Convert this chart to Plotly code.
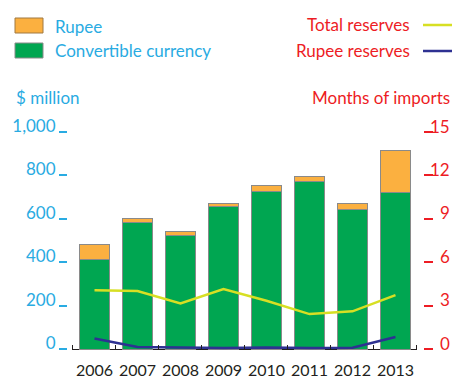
import plotly.graph_objects as go

years = ["2006", "2007", "2008", "2009", "2010", "2011", "2012", "2013"]
convertible = [415, 583, 524, 655, 726, 773, 643, 723]
rupee = [67, 20, 20, 16, 29, 20, 28, 190]
total_reserves_months = [4.07, 4.02, 3.17, 4.16, 3.35, 2.43, 2.62, 3.74]
rupee_reserves_months = [0.75, 0.15, 0.12, 0.09, 0.13, 0.09, 0.11, 0.85]
left_ticks = [0, 200, 400, 600, 800, 1000]
left_tick_labels = ["0", "200", "400", "600", "800", "1,000"]
right_ticks = [0, 3, 6, 9, 12, 15]
right_tick_labels = ["0", "3", "6", "9", "12", "15"]

W, H = 453, 379
ML, MR, MT, MB = 68, 30, 132, 29
PW = W - ML - MR
PH = H - MT - MB

CYAN = "#29ABE2"
RED = "#ED1C24"
GREEN = "#00A651"
ORANGE = "#FBB040"
YELLOW = "#D7DF23"
BLUE = "#2E3192"
DARK = "#231F20"
FONT = "Lato"


def px(x):
    return (x - ML) / PW


def py(y):
    return (H - MB - y) / PH


fig = go.Figure()
fig.add_trace(go.Bar(x=years, y=convertible, marker=dict(color=GREEN, line=dict(color="#8a8a8a", width=1)),
                     width=0.72, showlegend=False, yaxis="y"))
fig.add_trace(go.Bar(x=years, y=rupee, marker=dict(color=ORANGE, line=dict(color="#8a8a8a", width=1)),
                     width=0.72, showlegend=False, yaxis="y"))
fig.add_trace(go.Scatter(x=years, y=total_reserves_months, mode="lines", line=dict(color=YELLOW, width=2.5),
                         yaxis="y2", showlegend=False))
fig.add_trace(go.Scatter(x=years, y=rupee_reserves_months, mode="lines", line=dict(color=BLUE, width=2.5),
                         yaxis="y2", showlegend=False))

shapes = []
annotations = []
# bottom axis line
shapes.append(dict(type="line", xref="x", yref="y", x0=-0.5, x1=7.5, y0=-5, y1=-5, layer="below",
                   line=dict(color=DARK, width=2.5)))
# legend swatches
shapes.append(dict(type="rect", xref="paper", yref="paper", x0=px(15), x1=px(43), y0=py(33), y1=py(18),
                   fillcolor=ORANGE, line=dict(color="#a07840", width=1)))
shapes.append(dict(type="rect", xref="paper", yref="paper", x0=px(15), x1=px(43), y0=py(58), y1=py(43),
                   fillcolor=GREEN, line=dict(color="#8a8a8a", width=1)))
shapes.append(dict(type="line", xref="paper", yref="paper", x0=px(423), x1=px(452), y0=py(25), y1=py(25),
                   line=dict(color=YELLOW, width=2.5)))
shapes.append(dict(type="line", xref="paper", yref="paper", x0=px(423), x1=px(452), y0=py(51), y1=py(51),
                   line=dict(color=BLUE, width=2.5)))


def label(text, x, y, anchor, color):
    annotations.append(dict(text=text, xref="paper", yref="paper", x=px(x), y=py(y), xanchor=anchor,
                            yanchor="middle", showarrow=False, font=dict(family=FONT, size=17, color=color)))


label("Rupee", 53, 26, "left", CYAN)
label("Convertible currency", 53, 51, "left", CYAN)
label("Total reserves", 412, 25, "right", RED)
label("Rupee reserves", 412, 51, "right", RED)
label("$ million", 14, 97, "left", CYAN)
label("Months of imports", 452, 97, "right", RED)

for v, t in zip(right_ticks, right_tick_labels):
    annotations.append(dict(text=t, xref="paper", yref="y2", x=px(452), y=v, xanchor="right",
                            yanchor="middle", yshift=6, showarrow=False,
                            font=dict(family=FONT, size=17, color=RED)))

fig.update_layout(
    width=W, height=H,
    margin=dict(l=ML, r=MR, t=MT, b=MB, pad=0, autoexpand=False),
    paper_bgcolor="white", plot_bgcolor="white",
    barmode="stack",
    font=dict(family=FONT, size=17),
    xaxis=dict(type="category", range=[-0.616, 7.64], showgrid=False, showline=False, zeroline=False,
               ticks="inside", tickson="boundaries", ticklen=5, tickwidth=1, tickcolor=DARK, tickangle=0,
               automargin=False,
               tickfont=dict(family=FONT, size=16, color=DARK), ticklabelstandoff=9),
    yaxis=dict(range=[-3.33, 1000], tickvals=left_ticks, ticktext=left_tick_labels, showgrid=False,
               showline=False, zeroline=False, ticks="outside", ticklen=8, tickwidth=1.5, tickcolor=CYAN,
               automargin=False,
               tickfont=dict(family=FONT, size=17, color=CYAN), ticklabelshift=-6, ticklabelstandoff=0),
    yaxis2=dict(range=[-0.05, 15], overlaying="y", side="right", tickvals=right_ticks, showticklabels=False,
                showgrid=False, showline=False, zeroline=False, ticks="outside", ticklen=9, tickwidth=1.5,
                tickcolor=RED, automargin=False),
    shapes=shapes,
    annotations=annotations,
)

fig.write_html("out.html", config={"displayModeBar": False},
               post_script="document.body.style.margin='0';")
